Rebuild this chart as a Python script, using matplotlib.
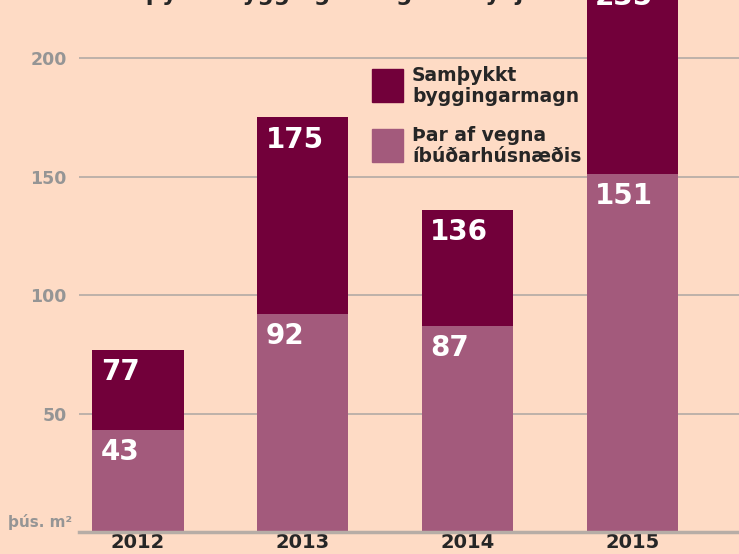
import matplotlib
matplotlib.use("Agg")
import matplotlib.pyplot as plt
from matplotlib.patches import Rectangle

years = ["2012", "2013", "2014", "2015"]
total = [77, 175, 136, 235]
residential = [43, 92, 87, 151]
yticks = [50, 100, 150, 200]
legend_labels = ["Samþykkt\nbyggingarmagn", "Þar af vegna\níbúðarhúsnæðis"]
unit_label = "þús. m²"
title = "Samþykkt byggingarmagn í Reykjavík"

BG = "#FEDBC5"
DARK = "#72003A"
LIGHT = "#A35A7C"
GRID = "#ADA6A2"
TICK = "#959595"
TXT = "#262626"

fam = ["Liberation Sans Narrow", "DejaVu Sans"]
plt.rcParams["font.family"] = fam

fig = plt.figure(figsize=(7.39, 5.54), dpi=100, facecolor=BG)
ax = fig.add_axes([79 / 739, 22 / 554, 660 / 739, 532 / 554])
ax.set_facecolor(BG)

x = list(range(len(years)))
w = 0.553
ax.bar(x, total, width=w, color=DARK, zorder=3)
ax.bar(x, residential, width=w, color=LIGHT, zorder=4)

ax.set_xlim(-0.358, 3.647)
ax.set_ylim(0, 224.5)

for v in yticks:
    ax.axhline(v, color=GRID, lw=1.1, zorder=1)
ax.axhline(0, color="#B7ADA6", lw=2.5, zorder=5, clip_on=False)

ax.set_yticks(yticks)
ax.set_yticklabels([str(v) for v in yticks], fontsize=12.5, fontweight="bold",
                   color=TICK, family=["DejaVu Sans"])
ax.tick_params(axis="y", length=0, pad=9)
ax.set_xticks(x)
ax.set_xticklabels(years, fontsize=14, fontweight="bold", color=TXT,
                   family=["DejaVu Sans"])
ax.tick_params(axis="x", length=0, pad=1)
for s in ax.spines.values():
    s.set_visible(False)

for xi, t, r in zip(x, total, residential):
    for val in (t, r):
        ax.annotate(str(val), xy=(xi - w / 2, val), xytext=(6, -16),
                    textcoords="offset points", ha="left", va="center",
                    fontsize=20, fontweight="bold", color="white",
                    family=["DejaVu Sans"], zorder=6, annotation_clip=False)

# legend
fig.patches.append(Rectangle((372 / 739, 1 - 102 / 554), 31 / 739, 33 / 554,
                             transform=fig.transFigure, color=DARK))
fig.patches.append(Rectangle((372 / 739, 1 - 162 / 554), 31 / 739, 33 / 554,
                             transform=fig.transFigure, color=LIGHT))
fig.text(412 / 739, 1 - 86 / 554, legend_labels[0], fontsize=13.5,
         fontweight="bold", color=TXT, va="center", ha="left",
         linespacing=1.15, family=["DejaVu Sans"])
fig.text(412 / 739, 1 - 146 / 554, legend_labels[1], fontsize=13.5,
         fontweight="bold", color=TXT, va="center", ha="left",
         linespacing=1.15, family=["DejaVu Sans"])

fig.text(72 / 739, 1 - 522 / 554, unit_label, fontsize=11, fontweight="bold",
         color=TICK, ha="right", va="center", family=["DejaVu Sans"])

fig.text(90 / 739, 1 + 0 / 554, title, fontsize=16.5, fontweight="bold",
         color=TXT, ha="left", va="baseline", zorder=0)

fig.savefig("out.png", dpi=100, facecolor=BG)
